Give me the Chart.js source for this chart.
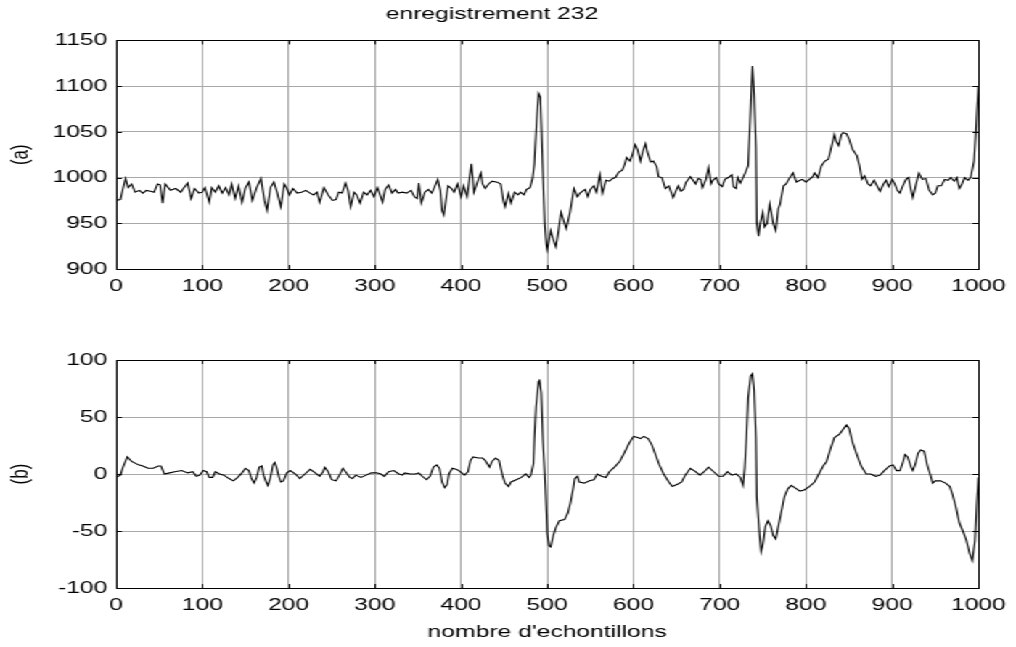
<!DOCTYPE html>
<html>
<head>
<meta charset="utf-8">
<script src="https://cdn.jsdelivr.net/npm/chart.js@4.4.0/dist/chart.umd.min.js"></script>
<style>
  html, body { margin: 0; padding: 0; background: #fff; }
  /* the reference picture is stretched sideways, so draw at 700px and widen */
  #wrap { position: absolute; left: 0; top: 0; width: 700px; height: 647px;
          transform: scaleX(1.4514); transform-origin: 0 0; }
  #wrap canvas { position: absolute; left: 0; }
</style>
</head>
<body>
<div id="wrap">
  <canvas id="chartA" width="700" height="300" style="top:0;width:700px;height:300px"></canvas>
  <canvas id="chartB" width="700" height="347" style="top:300px;width:700px;height:347px"></canvas>
</div>
<script>
// signal (a) : echantillon -> valeur
const topSamples = [0,5,8,11,14,18,22,27,31,35, 40,44,48,51,54,57,63,69,75,78,
  83,87,91,96,100,103,108,111,115,119, 123,127,131,134,138,142,146,150,154,158,
  163,168,172,175,179,183,187,191,195,198, 201,205,210,215,220,225,229,233,236,241,
  246,251,255,258,262,266,269,272,276,279, 283,287,291,295,299,303,305,309,312,316,
  320,324,327,332,337,342,346,349,351,354, 358,362,366,369,373,376,378,380,383,385,
  389,392,396,400,403,407,409,412,415,419, 423,425,428,432,436,442,446,449,451,455,
  458,462,466,469,473,476,480,483,485,488, 490,492,494,497,499,500,504,506,510,513,
  516,519,522,526,528,531,535,538,544,547, 550,554,557,561,564,568,572,576,579,583,
  587,590,592,596,599,602,605,608,611,614, 616,620,623,627,629,633,637,641,646,650,
  652,655,658,661,666,669,672,675,678,680, 684,687,690,692,696,699,703,706,710,714,
  716,719,721,724,727,730,733,735,738,740, 742,743,745,747,750,752,755,758,762,765,
  768,770,774,777,780,785,789,793,796,800, 804,808,810,814,818,822,826,829,833,835,
  838,841,843,847,850,854,859,862,865,868, 872,875,879,883,886,890,893,896,900,903,
  906,909,912,916,919,921,924,927,931,935, 939,943,947,950,953,957,961,965,968,972,
  975,978,981,984,988,991,995,997,1000];
const topValues = [975,976,988,999,989,993,984,986,983,986, 985,984,993,992,972,993,986,988,984,988,
  994,977,988,983,984,989,973,989,984,991, 983,989,981,993,977,991,973,989,995,975,
  989,999,975,964,989,995,983,968,993,988, 981,988,983,984,986,983,981,984,973,989,
  981,975,976,984,983,994,986,968,984,981, 972,984,981,986,979,989,984,973,987,992,
  983,987,983,984,983,986,979,977,994,972, 984,987,983,989,998,986,964,959,979,991,
  988,984,993,979,991,979,993,1015,984,995, 1005,993,988,993,996,995,993,975,968,983,
  972,984,981,984,981,987,989,999,1015,1066, 1092,1088,1033,950,926,921,942,935,924,942,
  962,953,944,960,971,988,979,983,987,979, 987,991,984,1003,983,997,996,999,1000,1006,
  1008,1015,1022,1018,1026,1036,1030,1018,1029,1037, 1028,1017,1018,1012,1001,1000,988,991,978,987,
  991,985,987,995,1001,997,993,999,998,989, 998,1011,993,997,1000,993,990,998,1000,1003,
  990,988,1000,994,1000,1006,1013,1055,1122,1090, 1033,951,936,950,962,946,950,971,950,942,
  966,971,991,993,998,1005,995,997,998,995, 998,1001,1005,1000,1013,1018,1020,1031,1047,1040,
  1035,1047,1049,1048,1042,1031,1024,1013,998,1002, 993,991,997,990,985,993,997,990,998,993,
  986,983,990,998,1000,990,978,990,1005,998, 999,986,981,983,991,991,998,997,1000,996,
  1000,988,993,1000,997,1000,1018,1049,1100];

// signal (b) : echantillon -> valeur
const bottomSamples = [0,5,8,13,18,26,31,37,43,49, 52,56,62,68,76,83,89,93,97,101,
  105,108,112,115,120,125,131,136,141,146, 150,154,157,160,163,166,169,171,174,176,
  179,182,184,186,189,191,194,198,202,208, 213,219,225,231,236,240,242,246,250,255,
  259,263,267,271,274,278,284,290,296,302, 307,311,316,322,328,332,335,341,347,351,
  355,360,364,368,372,375,378,381,384,386, 390,395,399,404,408,411,414,420,425,428,
  433,436,440,444,448,451,455,458,464,470, 475,479,481,484,485,487,490,491,493,495,
  498,500,502,504,507,510,514,520,524,527, 530,532,535,537,543,549,554,558,563,568,
  572,578,584,589,595,600,605,608,612,617, 621,625,630,635,641,645,651,656,660,666,
  672,677,682,687,693,699,704,709,714,719, 724,727,729,731,733,736,738,740,742,743,
  746,748,750,753,756,759,762,765,768,771, 775,779,783,787,793,798,804,810,815,820,
  824,828,833,839,843,847,850,854,859,864, 870,875,881,886,891,897,901,905,909,912,
  915,918,922,924,927,930,933,937,941,944, 947,950,956,962,967,970,974,978,982,986,
  990,993,996,998,1000];
const bottomValues = [-3,-1,6,15,11,8,7,5,5,7, 7,0,1,2,3,1,2,-2,-1,3,
  2,-3,-3,2,0,-1,-4,-6,-3,1, 5,3,-4,-8,-3,6,7,-1,-7,-10,
  -3,8,10,6,-3,-7,-6,1,3,0, -4,0,4,1,-2,2,6,2,-5,-6,
  -1,5,1,-3,-4,-1,-3,-1,1,1, 0,-2,2,3,0,-1,1,0,0,1,
  -2,-5,-2,6,8,5,-7,-12,-9,0, 5,4,2,-1,2,12,15,14,14,12,
  6,11,14,12,-1,-8,-11,-7,-5,-3, 0,-3,-1,9,30,59,81,83,71,30,
  -14,-52,-63,-64,-54,-47,-41,-40,-34,-25, -13,-4,-2,-7,-8,-6,-5,0,-2,-3,
  2,6,11,18,27,33,32,31,33,31, 26,18,8,0,-7,-11,-9,-7,-1,5,
  2,-1,2,6,2,-2,-2,2,-1,0, -3,-10,5,32,67,86,88,73,32,-20,
  -52,-68,-62,-46,-41,-45,-54,-57,-46,-35, -20,-13,-10,-12,-15,-14,-11,-7,0,7,
  11,21,32,35,39,43,40,28,17,7, 0,0,-2,-1,3,7,8,3,3,9,
  17,15,6,3,9,18,21,20,7,0, -8,-6,-6,-8,-11,-18,-29,-43,-50,-58,
  -70,-76,-59,-29,-3];

const xTicks = [0, 1000, 100];       // min, max, pas
const yTicksA = [900, 1150, 50];
const yTicksB = [-100, 100, 50];

Chart.defaults.font.family = '"Liberation Sans", Arial, sans-serif';
Chart.defaults.color = '#000';

// cadre noir + petites graduations vers l'interieur (style matlab)
const matlabBox = {
  id: 'matlabBox',
  afterDraw(chart) {
    const { ctx, chartArea: a, scales } = chart;
    ctx.save();
    ctx.strokeStyle = '#000';
    ctx.lineWidth = 1;
    ctx.beginPath();
    scales.x.ticks.forEach(t => {
      const px = Math.round(scales.x.getPixelForValue(t.value)) + 0.5;
      ctx.moveTo(px, a.top); ctx.lineTo(px, a.top + 4);
      ctx.moveTo(px, a.bottom); ctx.lineTo(px, a.bottom - 4);
    });
    scales.y.ticks.forEach(t => {
      const py = Math.round(scales.y.getPixelForValue(t.value)) + 0.5;
      ctx.moveTo(a.left, py); ctx.lineTo(a.left + 4, py);
      ctx.moveTo(a.right, py); ctx.lineTo(a.right - 4, py);
    });
    ctx.stroke();
    ctx.strokeRect(Math.round(a.left) + 0.5, Math.round(a.top) + 0.5,
                   Math.round(a.right - a.left), Math.round(a.bottom - a.top));
    ctx.restore();
  }
};

function points(xs, ys) {
  return xs.map((x, i) => ({ x: x, y: ys[i] }));
}

const plain = v => String(v);   // pas de separateur de milliers

function makeChart(id, xs, ys, yt, label, opts) {
  return new Chart(document.getElementById(id), {
    type: 'line',
    data: {
      datasets: [{
        data: points(xs, ys),
        borderColor: '#000',
        borderWidth: 1.1,
        pointRadius: 0,
        tension: 0,
        fill: false
      }]
    },
    options: {
      responsive: false,
      animation: false,
      layout: { padding: { left: 0, right: 22, top: opts.padTop, bottom: 0 } },
      plugins: {
        legend: { display: false },
        tooltip: { enabled: false },
        title: opts.title
      },
      scales: {
        x: {
          type: 'linear',
          min: xTicks[0], max: xTicks[1],
          ticks: { stepSize: xTicks[2], autoSkip: false, maxRotation: 0, padding: 7,
                   font: { size: 17 }, color: '#000', callback: plain },
          grid: { color: '#a8a8a8', drawTicks: false },
          border: { display: false },
          title: opts.xTitle,
          afterFit: s => { s.height = opts.xHeight; }
        },
        y: {
          min: yt[0], max: yt[1],
          ticks: { stepSize: yt[2], padding: 6, font: { size: 17 }, color: '#000', callback: plain },
          grid: { color: '#a8a8a8', drawTicks: false },
          border: { display: false },
          title: { display: true, text: label, font: { size: 17 }, color: '#000',
                   padding: { top: 4, bottom: 0 } },
          afterFit: s => { s.width = 80; }
        }
      }
    },
    plugins: [matlabBox]
  });
}

makeChart('chartA', topSamples, topValues, yTicksA, '(a)', {
  padTop: 0,
  xHeight: 31,
  title: { display: true, text: 'enregistrement 232', font: { size: 17, weight: 'normal' },
           color: '#000', padding: { top: 4, bottom: 16 } },
  xTitle: { display: false }
});

makeChart('chartB', bottomSamples, bottomValues, yTicksB, '(b)', {
  padTop: 60,
  xHeight: 59,
  title: { display: false },
  xTitle: { display: true, text: "nombre d'echontillons", font: { size: 17 }, color: '#000',
            padding: { top: 0, bottom: 4 } }
});
</script>
</body>
</html>
